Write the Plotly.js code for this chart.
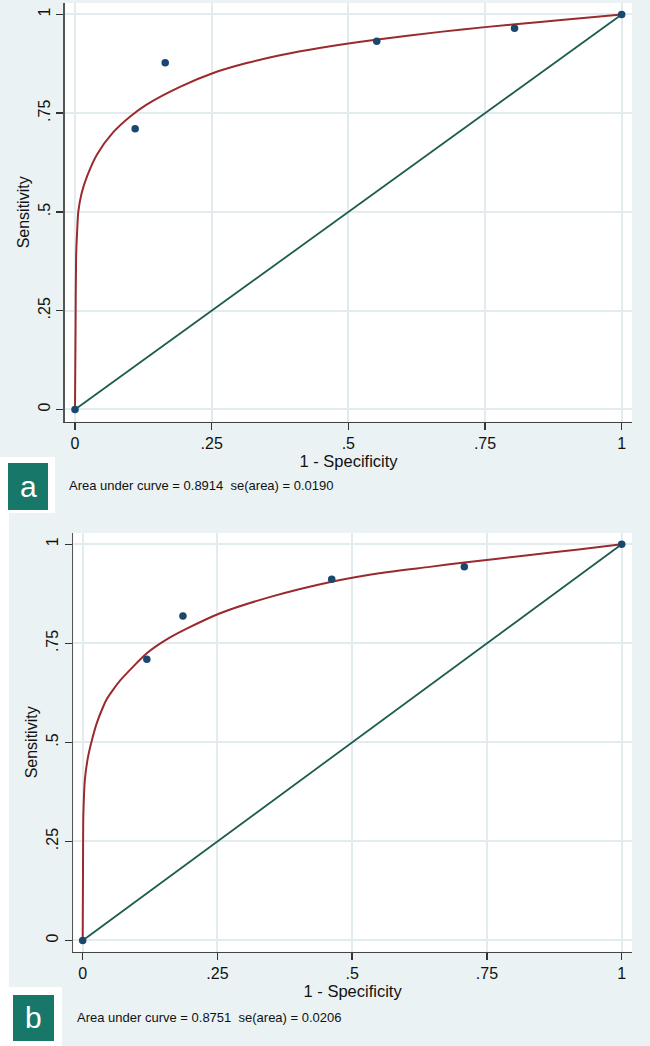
<!DOCTYPE html>
<html>
<head>
<meta charset="utf-8">
<script src="https://cdn.plot.ly/plotly-3.0.1.min.js"></script>
<style>
html,body{margin:0;padding:0;background:#EAF2F3;}
#chart{width:650px;height:1046px;}
</style>
</head>
<body>
<div id="chart"></div>
<script>
// ---------- data ----------
// Panel a: observed operating points
const aObsFpr = [0, 0.110, 0.165, 0.552, 0.804, 1];
const aObsTpr = [0, 0.711, 0.878, 0.932, 0.965, 1];
// Panel a: fitted ROC curve
const aCurveFpr = [0, 0.001, 0.002, 0.004, 0.006, 0.012, 0.022, 0.040, 0.070, 0.101, 0.131, 0.192, 0.253, 0.314, 0.375, 0.45, 0.55, 0.668, 0.75, 0.851, 0.93, 1];
const aCurveTpr = [0, 0.20, 0.386, 0.454, 0.50, 0.547, 0.590, 0.645, 0.702, 0.742, 0.772, 0.817, 0.852, 0.877, 0.897, 0.916, 0.936, 0.956, 0.968, 0.981, 0.991, 1];

// Panel b: observed operating points
const bObsFpr = [0, 0.119, 0.186, 0.462, 0.708, 1];
const bObsTpr = [0, 0.710, 0.819, 0.912, 0.943, 1];
// Panel b: fitted ROC curve
const bCurveFpr = [0, 0.0006, 0.001, 0.002, 0.004, 0.010, 0.017, 0.026, 0.038, 0.045, 0.057, 0.070, 0.119, 0.156, 0.193, 0.255, 0.35, 0.46, 0.55, 0.644, 0.708, 0.83, 0.92, 1];
const bCurveTpr = [0, 0.174, 0.30, 0.35, 0.405, 0.464, 0.505, 0.548, 0.590, 0.610, 0.634, 0.657, 0.725, 0.760, 0.787, 0.826, 0.868, 0.905, 0.927, 0.943, 0.954, 0.973, 0.987, 1];

// Reference (chance) line
const diagX = [0, 1];
const diagY = [0, 1];

// Ticks
const tickVals = [0, 0.25, 0.5, 0.75, 1];
const tickText = ['0', '.25', '.5', '.75', '1'];

// Texts
const xTitle = '1 - Specificity';
const yTitle = 'Sensitivity';
const noteA = 'Area under curve = 0.8914  se(area) = 0.0190';
const noteB = 'Area under curve = 0.8751  se(area) = 0.0206';
const labelA = 'a';
const labelB = 'b';

// ---------- styling / layout ----------
const W = 650, H = 1046;
const fx = px => px / W;
const fy = py => 1 - py / H;

const BG = '#EAF2F3';
const GRID = '#E2ECEF';
const MAROON = '#9B2A2E';
const GREEN = '#1D5C4E';
const NAVY = '#1A476F';
const TEAL = '#17786A';
const FONT = 'Liberation Sans, Arial, Helvetica, sans-serif';

function xAxis(domain, range, anchor) {
  return {
    domain: domain, range: range, anchor: anchor,
    tickvals: tickVals, ticktext: tickText,
    ticks: 'outside', ticklen: 7, tickwidth: 1.5, tickcolor: '#333',
    showline: true, linecolor: '#444', linewidth: 1.5,
    showgrid: true, gridcolor: GRID, gridwidth: 2,
    zeroline: false,
    tickfont: {family: FONT, size: 16, color: '#111'},
    title: {text: xTitle, font: {family: FONT, size: 16.5, color: '#111'}, standoff: 2},
    automargin: false, fixedrange: true
  };
}
function yAxis(domain, range, anchor) {
  return {
    domain: domain, range: range, anchor: anchor,
    tickvals: tickVals, ticktext: tickText, tickangle: -90,
    ticks: 'outside', ticklen: 7, tickwidth: 1.5, tickcolor: '#333',
    showline: true, linecolor: '#555', linewidth: 1.8,
    showgrid: true, gridcolor: GRID, gridwidth: 2,
    zeroline: false,
    tickfont: {family: FONT, size: 16, color: '#111'},
    title: {text: yTitle, font: {family: FONT, size: 16, color: '#111'}, standoff: 2},
    automargin: false, fixedrange: true
  };
}

function panelTraces(cx, cy, ox, oy, xa, ya) {
  return [
    {x: diagX, y: diagY, xaxis: xa, yaxis: ya, type: 'scatter', mode: 'lines',
     line: {color: GREEN, width: 1.8}, hoverinfo: 'skip', showlegend: false},
    {x: cx, y: cy, xaxis: xa, yaxis: ya, type: 'scatter', mode: 'lines',
     line: {color: MAROON, width: 2, shape: 'spline', smoothing: 0.7}, hoverinfo: 'skip', showlegend: false},
    {x: ox, y: oy, xaxis: xa, yaxis: ya, type: 'scatter', mode: 'markers',
     marker: {color: NAVY, size: 7.5}, hoverinfo: 'skip', showlegend: false}
  ];
}

const data = [].concat(
  panelTraces(aCurveFpr, aCurveTpr, aObsFpr, aObsTpr, 'x', 'y'),
  panelTraces(bCurveFpr, bCurveTpr, bObsFpr, bObsTpr, 'x2', 'y2')
);

const layout = {
  width: W, height: H,
  margin: {l: 0, r: 0, t: 0, b: 0},
  paper_bgcolor: BG, plot_bgcolor: '#FFFFFF',
  showlegend: false,
  xaxis: xAxis([fx(65), fx(632)], [-0.0183, 1.0189], 'y'),
  yaxis: yAxis([fy(421.7), fy(3)], [-0.0309, 1.0291], 'x'),
  xaxis2: xAxis([fx(73.3), fx(632)], [-0.0174, 1.0191], 'y2'),
  yaxis2: yAxis([fy(951.7), fy(533)], [-0.0283, 1.0285], 'x2'),
  shapes: [
    // white surround + teal label box, panel a
    {type: 'rect', xref: 'paper', yref: 'paper', x0: fx(0), x1: fx(55), y0: fy(513), y1: fy(457),
     fillcolor: '#FFFFFF', line: {width: 0}, layer: 'above'},
    {type: 'rect', xref: 'paper', yref: 'paper', x0: fx(8), x1: fx(48), y0: fy(510), y1: fy(463),
     fillcolor: TEAL, line: {width: 0}, layer: 'above'},
    // white strip at left of panel b
    {type: 'rect', xref: 'paper', yref: 'paper', x0: fx(0), x1: fx(9), y0: fy(1046), y1: fy(513),
     fillcolor: '#FFFFFF', line: {width: 0}, layer: 'above'},
    // white surround + teal label box, panel b
    {type: 'rect', xref: 'paper', yref: 'paper', x0: fx(0), x1: fx(62), y0: fy(1046), y1: fy(987),
     fillcolor: '#FFFFFF', line: {width: 0}, layer: 'above'},
    {type: 'rect', xref: 'paper', yref: 'paper', x0: fx(13), x1: fx(54), y0: fy(1041), y1: fy(995),
     fillcolor: TEAL, line: {width: 0}, layer: 'above'}
  ],
  annotations: [
    {xref: 'paper', yref: 'paper', x: fx(67), y: fy(485), xanchor: 'left', yanchor: 'middle',
     text: noteA, showarrow: false, font: {family: FONT, size: 13, color: '#111'}},
    {xref: 'paper', yref: 'paper', x: fx(75), y: fy(1017), xanchor: 'left', yanchor: 'middle',
     text: noteB, showarrow: false, font: {family: FONT, size: 13, color: '#111'}},
    {xref: 'paper', yref: 'paper', x: fx(28), y: fy(486), xanchor: 'center', yanchor: 'middle',
     text: labelA, showarrow: false, font: {family: FONT, size: 30, color: '#FFFFFF'}},
    {xref: 'paper', yref: 'paper', x: fx(33.5), y: fy(1017), xanchor: 'center', yanchor: 'middle',
     text: labelB, showarrow: false, font: {family: FONT, size: 30, color: '#FFFFFF'}}
  ]
};

Plotly.newPlot('chart', data, layout, {displayModeBar: false, staticPlot: true});
</script>
</body>
</html>
